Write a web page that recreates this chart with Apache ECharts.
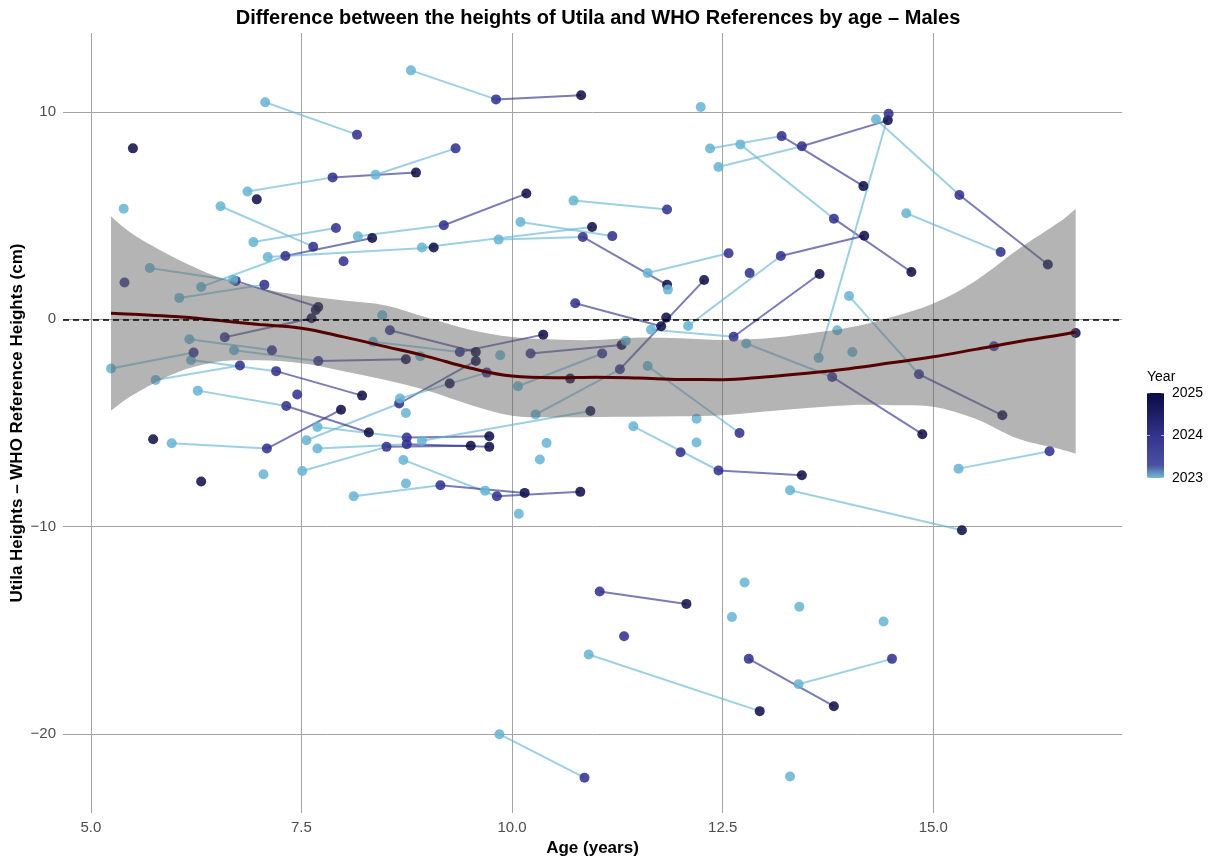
<!DOCTYPE html>
<html>
<head>
<meta charset="utf-8">
<script src="https://cdn.jsdelivr.net/npm/echarts@6/dist/echarts.min.js"></script>
<style>html,body{margin:0;padding:0;background:#fff}#chart{width:1224px;height:864px}</style>
</head>
<body>
<div id="chart"></div>
<script>
// ---- data: one entry per child, successive measurements (age, difference, year) ----
const trackAges = [
  [8.80,9.81,10.82],[7.07,8.16],[5.50],[12.24],[12.35,13.20,14.17],[12.71,13.82,14.74],[12.45,13.44,14.46],
  [14.32,15.31,16.36],[13.64,14.47],[14.68,15.80],[14.00,14.83,15.82],[12.78,13.80,14.87],[12.09,13.19,14.18],
  [11.65,12.63,13.65],[11.61,12.57],[12.82],[13.86],[14.04],[15.72],[16.69],[15.30,16.38],[13.30,15.34],
  [11.44,12.45,13.44],[12.00],[13.41],[14.41],[13.40,14.51],[12.81,13.82],[13.30],[12.76],[12.61],
  [11.04,12.07],[11.33],[10.91,12.94],[9.85,10.86],[11.61,12.70],[12.19],[12.19],[10.41],[10.33],[10.08],
  [9.68],[8.71,9.82,10.81],[8.12,9.15,10.15],[8.74],[5.74],[5.96,7.09,7.97],[6.31],[7.05],[7.51,8.51,9.51],
  [7.69,8.75,9.73],[7.69,8.75,9.73],[7.56,8.66,9.57],[8.93,10.93],[8.74],[8.67,9.70],[9.26],[6.27,7.32,8.30],
  [7.45],[6.19,7.20,8.22],[5.77,6.77],[5.24,6.22],[6.17,7.15],[6.70,7.70,8.74],[6.59,7.62],[5.70,6.72,7.70],
  [7.67],[6.05,7.06],[6.31,7.31,8.34],[6.69],[5.40],[7.10,9.07],[8.93,10.95],[9.84,10.84,11.84],[11.85],
  [10.10,11.19],[10.73,11.84],[8.17,9.19,10.17],[6.93,7.91],[6.54,7.64],[6.86,7.87,8.86],[8.38,9.33],[6.97],
  [5.39],[8.00],[8.46],[8.55,9.57],[8.35,9.38,10.37],[8.91],[9.86],[10.22,11.30],[10.07,11.07],[11.35],
  [10.69],[10.28,11.28,12.28],[10.75,11.77],[11.83]
];
const trackHeights = [
  [12.0,10.6,10.8],[10.46,8.90],[8.24],[10.23],[8.23,8.83,6.42],[8.43,4.85,2.28],[7.34,8.34,9.59],
  [9.64,5.99,2.64],[-1.86,9.91],[5.11,3.24],[1.12,-2.65,-4.63],[-1.17,-2.78,-5.54],[-0.32,3.05,4.03],
  [-0.50,-0.84,2.18],[2.23,3.18],[2.23],[-0.53],[-1.58],[-1.30],[-0.66],[-7.20,-6.36],[-8.24,-10.17],
  [-5.16,-7.29,-7.52],[-6.41],[-13.86],[-14.57],[-17.59,-16.37],[-16.37,-18.65],[-22.04],[-12.69],[-14.35],
  [-13.12,-13.72],[-15.28],[-16.16,-18.89],[-20.0,-22.1],[-2.25,-5.48],[-4.79],[-5.94],[-5.96],[-6.76],[-9.38],
  [-8.26],[-6.78,-8.53,-8.32],[-8.53,-8.00,-8.37],[-7.92],[-5.78],[-5.98,-6.23,-4.36],[-7.82],[-7.47],[-7.31,-6.15,-6.10],
  [-6.23,-6.02,-6.15],[-5.19,-5.70,-5.64],[-5.83,-4.06,-2.01],[-5.86,-4.42],[-4.52],[-3.82,-2.57],[-3.10],[-3.44,-4.18,-5.46],
  [-3.63],[-1.96,-2.50,-3.68],[-2.93,-2.23],[-2.37,-1.60],[-0.96,-1.49],[-1.49,-2.01,-1.93],[-0.87,0.05],[2.47,1.85,0.59],
  [0.45],[1.03,1.67],[1.56,3.05,3.92],[1.91],[1.77],[3.00,3.46],[3.46,4.45],[3.84,3.97,1.66],[1.43],
  [4.69,4.01],[5.72,5.29],[4.00,4.53,6.06],[3.72,4.40],[5.45,3.50],[6.16,6.84,7.07],[6.97,8.24],[5.78],
  [5.33],[2.80],[0.19],[-0.53,-1.58],[-1.08,-1.58,-0.74],[-1.78],[-1.73],[-1.65,-1.24],[-3.23,-1.65],[-1.03],
  [-2.86],[-4.59,-2.41,1.89],[0.77,-0.34],[0.08]
];
const trackYears = [
  [2023,2024,2025],[2023,2024],[2025],[2023],[2023,2024,2025],[2023,2024,2025],[2023,2024,2025],
  [2023,2024,2025],[2023,2024],[2023,2024],[2023,2024,2025],[2023,2024,2025],[2023,2024,2025],
  [2023,2024,2025],[2023,2024],[2024],[2023],[2023],[2024],[2025],[2023,2024],[2023,2025],
  [2023,2024,2025],[2024],[2023],[2023],[2023,2024],[2024,2025],[2023],[2023],[2023],
  [2024,2025],[2024],[2023,2025],[2023,2024],[2023,2024],[2023],[2023],[2023],[2023],[2023],
  [2023],[2023,2024,2025],[2023,2024,2025],[2023],[2025],[2023,2024,2025],[2025],[2023],[2023,2024,2025],
  [2023,2024,2025],[2023,2024,2025],[2023,2024,2025],[2023,2025],[2023],[2023,2024],[2025],[2023,2024,2025],
  [2024],[2023,2024,2025],[2023,2024],[2023,2024],[2023,2024],[2023,2024,2025],[2024,2025],[2023,2024,2025],
  [2025],[2023,2024],[2023,2024,2025],[2023],[2024],[2023,2025],[2023,2025],[2023,2024,2025],[2023],
  [2023,2024],[2023,2024],[2023,2024,2025],[2023,2024],[2023,2024],[2023,2024,2025],[2023,2024],[2025],
  [2023],[2024],[2023],[2024,2025],[2023,2024,2025],[2023],[2023],[2024,2025],[2023,2024],[2023],
  [2025],[2023,2024,2025],[2024,2025],[2025]
];

// ---- loess fit and its confidence band ----
const smoothAges = [5.24,5.5,6.0,6.5,7.0,7.5,8.0,8.5,9.0,9.5,10.0,10.5,11.0,11.5,12.0,12.5,13.0,13.5,14.0,14.5,15.0,15.5,16.0,16.5,16.69];
const smoothFit  = [0.29,0.24,0.13,-0.05,-0.25,-0.43,-0.85,-1.32,-1.80,-2.35,-2.74,-2.82,-2.79,-2.83,-2.90,-2.91,-2.78,-2.60,-2.38,-2.10,-1.81,-1.45,-1.08,-0.76,-0.61];
const bandLow    = [-4.40,-3.65,-2.60,-2.05,-1.98,-2.12,-2.50,-2.93,-3.45,-4.12,-4.65,-4.72,-4.71,-4.70,-4.68,-4.63,-4.45,-4.28,-4.14,-4.14,-4.22,-4.80,-5.75,-6.25,-6.47];
const bandHigh   = [4.95,4.10,2.95,2.05,1.50,1.16,0.90,0.67,0.07,-0.50,-0.85,-0.97,-1.00,-0.88,-0.92,-1.00,-0.93,-0.70,-0.40,0.10,0.76,1.85,3.35,4.70,5.33];

// ---- axes / legend ----
const xTicks = [5, 7.5, 10, 12.5, 15];
const yTicks = [-20, -10, 0, 10];
const legendYears = [2023, 2024, 2025];
const yearColors = ['#66B4D2', '#2E2E8C', '#0A0A45'];

const FONT = 'Liberation Sans, Arial, Helvetica, sans-serif';
function yearColor(y) { return yearColors[legendYears.indexOf(y)]; }

const points = [];
const segments = [];
trackAges.forEach((ages, t) => {
  ages.forEach((a, i) => points.push([a, trackHeights[t][i], trackYears[t][i]]));
  for (let i = 0; i < ages.length - 1; i++) {
    segments.push({
      coords: [[ages[i], trackHeights[t][i]], [ages[i + 1], trackHeights[t][i + 1]]],
      lineStyle: { color: yearColor(trackYears[t][i]) }
    });
  }
});
const fitLine = smoothAges.map((a, i) => [a, smoothFit[i]]);
const bandData = smoothAges.map((a, i) => [a, bandLow[i], bandHigh[i]]);

// smooth (Catmull-Rom -> cubic Bezier) path through pixel points
function curveThrough(pts, startWithMove) {
  let d = startWithMove ? 'M' + pts[0][0] + ' ' + pts[0][1] : 'L' + pts[0][0] + ' ' + pts[0][1];
  for (let i = 0; i < pts.length - 1; i++) {
    const p0 = pts[Math.max(i - 1, 0)], p1 = pts[i], p2 = pts[i + 1], p3 = pts[Math.min(i + 2, pts.length - 1)];
    const c1x = p1[0] + (p2[0] - p0[0]) / 6, c1y = p1[1] + (p2[1] - p0[1]) / 6;
    const c2x = p2[0] - (p3[0] - p1[0]) / 6, c2y = p2[1] - (p3[1] - p1[1]) / 6;
    d += ' C' + c1x + ' ' + c1y + ' ' + c2x + ' ' + c2y + ' ' + p2[0] + ' ' + p2[1];
  }
  return d;
}

const chart = echarts.init(document.getElementById('chart'), null, { renderer: 'canvas' });
const legendX = 1147, legendTop = 393, legendH = 85;
const yearY = y => legendTop + legendH * (legendYears[legendYears.length - 1] - y) / (legendYears[legendYears.length - 1] - legendYears[0]);

chart.setOption({
  animation: false,
  backgroundColor: '#ffffff',
  textStyle: { fontFamily: FONT },
  title: {
    text: 'Difference between the heights of Utila and WHO References by age \u2013 Males',
    left: 593, top: 3, textAlign: 'center',
    textStyle: { fontFamily: FONT, fontSize: 20, fontWeight: 'bold', color: '#000' }
  },
  grid: { left: 63, right: 102, top: 33, bottom: 51, containLabel: false, outerBoundsMode: 'none' },
  xAxis: {
    type: 'value', min: 4.67, max: 17.24, minInterval: 2.5, maxInterval: 2.5, splitNumber: 5,
    axisLine: { show: false }, axisTick: { show: false },
    axisLabel: {
      color: '#4d4d4d', fontSize: 15, fontFamily: FONT, margin: 7,
      showMinLabel: false, showMaxLabel: false,
      formatter: v => xTicks.includes(v) ? v.toFixed(1) : ''
    },
    splitLine: { show: true, showMinLine: false, showMaxLine: false, lineStyle: { color: '#a3a3a3', width: 1 } },
    name: 'Age (years)', nameLocation: 'middle', nameGap: 27, nameMoveOverlap: false,
    nameTextStyle: { fontFamily: FONT, fontSize: 17, fontWeight: 'bold', color: '#000' }
  },
  yAxis: {
    type: 'value', min: -23.8, max: 13.8, minInterval: 10, maxInterval: 10, splitNumber: 4,
    axisLine: { show: false }, axisTick: { show: false },
    axisLabel: {
      color: '#4d4d4d', fontSize: 15, fontFamily: FONT, margin: 7,
      showMinLabel: false, showMaxLabel: false,
      formatter: v => yTicks.includes(v) ? String(v).replace('-', '\u2212') : ''
    },
    splitLine: { show: true, showMinLine: false, showMaxLine: false, lineStyle: { color: '#a3a3a3', width: 1 } },
    name: 'Utila Heights \u2013 WHO Reference Heights (cm)', nameLocation: 'middle', nameGap: 37, nameMoveOverlap: false,
    nameTextStyle: { fontFamily: FONT, fontSize: 17, fontWeight: 'bold', color: '#000' }
  },
  visualMap: {
    show: false, type: 'continuous', seriesIndex: 1, dimension: 2,
    min: legendYears[0], max: legendYears[legendYears.length - 1],
    inRange: { color: yearColors }
  },
  series: [
    {
      type: 'lines', coordinateSystem: 'cartesian2d', polyline: false, silent: true, z: 1,
      lineStyle: { width: 2, opacity: 0.63 },
      data: segments
    },
    {
      type: 'scatter', data: points, symbolSize: 10, z: 2,
      itemStyle: { opacity: 0.85 }
    },
    {
      type: 'custom', coordinateSystem: 'cartesian2d', silent: true, z: 3,
      data: [bandData[0]],
      encode: { x: 0, y: 1 },
      renderItem: function (params, api) {
        const up = bandData.map(r => api.coord([r[0], r[2]]));
        const lo = bandData.map(r => api.coord([r[0], r[1]])).reverse();
        const d = curveThrough(up, true) + ' ' + curveThrough(lo, false) + ' Z';
        return { type: 'path', shape: { pathData: d }, style: { fill: 'rgba(96,96,96,0.47)' } };
      }
    },
    {
      type: 'line', data: fitLine, symbol: 'none', smooth: 0.4, silent: true, z: 4,
      lineStyle: { color: '#560000', width: 3 }
    },
    {
      type: 'line', data: [], z: 5, silent: true,
      markLine: {
        silent: true, symbol: ['none', 'none'], label: { show: false },
        lineStyle: { color: '#000', type: [6, 4], width: 1.6 },
        data: [{ yAxis: 0 }]
      }
    }
  ],
  graphic: [
    { type: 'text', x: legendX, y: legendTop - 16, style: { text: 'Year', fontFamily: FONT, fontSize: 14, fill: '#000', verticalAlign: 'middle' } },
    {
      type: 'rect', shape: { x: legendX, y: legendTop, width: 17, height: legendH },
      style: {
        fill: new echarts.graphic.LinearGradient(0, 0, 0, 1, [
          { offset: 0, color: yearColors[2] },
          { offset: 0.5, color: '#33338a' },
          { offset: 0.85, color: '#4a52a0' },
          { offset: 1, color: '#74bad6' }
        ])
      }
    },
    ...legendYears.map(y => ({ type: 'line', shape: { x1: legendX, y1: yearY(y), x2: legendX + 3, y2: yearY(y) }, style: { stroke: 'rgba(255,255,255,0.6)', lineWidth: 1 } })),
    ...legendYears.map(y => ({ type: 'line', shape: { x1: legendX + 14, y1: yearY(y), x2: legendX + 17, y2: yearY(y) }, style: { stroke: 'rgba(255,255,255,0.6)', lineWidth: 1 } })),
    ...legendYears.map(y => ({ type: 'text', x: legendX + 25, y: yearY(y), style: { text: String(y), fontFamily: FONT, fontSize: 14, fill: '#000', verticalAlign: 'middle' } }))
  ]
});
</script>
</body>
</html>
